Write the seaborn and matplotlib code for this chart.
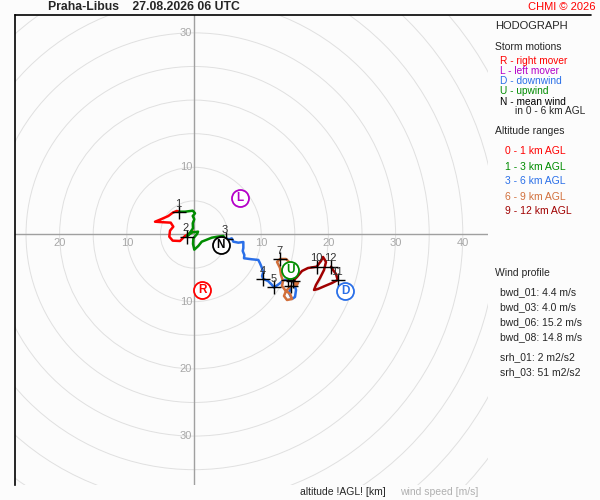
import numpy as np
import pandas as pd
import matplotlib
matplotlib.use("Agg")
import matplotlib.pyplot as plt
import seaborn as sns
from matplotlib.patches import Circle
from matplotlib.lines import Line2D

# hodograph trace, u / v components in m/s, split by altitude range
u_0_1 = [-0.10, -1.34, -2.08, -3.17, -3.68, -3.57, -3.08, -3.47, -4.57, -5.80, -4.81, -3.82, -3.17, -2.57, -2.19]
v_0_1 = [0.42, -0.22, -0.97, -0.92, -0.33, 0.57, 1.16, 1.76, 1.82, 1.90, 2.31, 2.75, 3.24, 3.50, 3.39]

u_1_3 = [-2.19, -1.34, -0.19, 0.15, -0.19, 0.04, -0.19, -0.15, -0.60, -1.04, -0.30, 0.60, 0.45,
         -0.10, -0.15, 0.04, 0.64, 1.15, 1.79, 2.63, 3.47, 4.36, 4.61]
v_1_3 = [3.39, 3.39, 3.54, 3.15, 2.75, 2.26, 1.67, 0.92, 0.27, -0.22, 0.30, 0.42, 0.07,
         -0.57, -1.41, -2.26, -1.71, -1.07, -0.82, -0.48, -0.33, -0.22, -0.57]

u_3_6 = [4.61, 5.25, 5.61, 5.85, 6.59, 7.34, 7.34, 7.25, 7.49, 7.44, 8.59, 9.57, 9.82, 10.07, 10.31,
         10.12, 10.31, 11.01, 11.61, 11.90, 12.65, 13.39, 14.29, 14.88, 15.18, 15.03, 14.58, 14.14, 14.43]
v_3_6 = [-0.57, -0.71, -0.57, -1.07, -1.22, -1.12, -2.01, -2.46, -3.05, -3.54, -3.69, -3.79, -4.29, -4.88, -5.58,
         -6.18, -6.62, -6.92, -7.51, -7.89, -7.37, -6.77, -6.77, -7.22, -8.26, -9.30, -9.60, -8.71, -7.66]

u_6_9 = [14.43, 13.69, 13.39, 13.84, 14.58, 14.29, 13.54, 13.10, 13.24, 12.95, 12.80, 12.35, 12.80,
         13.69, 14.14, 14.58, 15.03, 14.58, 13.99, 14.73, 15.48, 15.18, 14.73]
v_6_9 = [-7.66, -8.41, -9.15, -9.75, -9.60, -8.85, -8.26, -7.66, -6.92, -6.03, -4.99, -4.09, -3.65,
         -3.65, -4.09, -4.69, -5.58, -6.32, -6.77, -6.92, -7.22, -7.66, -6.92]

u_9_12 = [14.73, 15.33, 16.07, 16.96, 18.26, 18.90, 19.20, 19.64, 19.35, 18.75, 18.15, 17.86,
          18.45, 19.49, 20.54, 21.38, 21.13, 20.68, 20.39]
v_9_12 = [-6.92, -6.32, -5.43, -4.99, -4.79, -3.94, -3.35, -4.09, -5.28, -6.47, -7.51, -8.26,
          -8.11, -7.66, -7.22, -6.77, -5.88, -5.28, -4.79]

# wind at each whole km (labels 6, 8, 9 sit under the U marker in the original)
height_km = [1, 2, 3, 4, 5, 6, 7, 8, 9, 10, 11, 12]
height_u = [-2.19, -1.09, 4.70, 10.31, 11.90, 14.43, 12.80, 13.99, 14.73, 18.26, 21.38, 20.39]
height_v = [3.30, -0.33, -0.60, -6.62, -7.89, -7.66, -3.65, -6.77, -6.92, -4.79, -6.77, -4.79]
labelled_km = [1, 2, 3, 4, 5, 7, 10, 11, 12]

# storm motions
storm_labels = ["R", "L", "D", "U", "N"]
storm_u = [1.19, 6.85, 22.47, 14.29, 3.97]
storm_v = [-8.26, 5.43, -8.41, -5.28, -1.56]

layer_names = ["0 - 1 km AGL", "1 - 3 km AGL", "3 - 6 km AGL", "6 - 9 km AGL", "9 - 12 km AGL"]
layer_colors = ["#ff0000", "#008c00", "#2a6fe8", "#d2703c", "#a00000"]
storm_colors = ["#ff0000", "#b400c8", "#2a6fe8", "#008c00", "#000000"]

profile_lines = ["bwd_01: 4.4 m/s", "bwd_03: 4.0 m/s", "bwd_06: 15.2 m/s", "bwd_08: 14.8 m/s"]
srh_lines = ["srh_01: 2 m2/s2", "srh_03: 51 m2/s2"]

BG = "#fcfcfc"
sns.set_style("white")
plt.rcParams["font.family"] = ["Liberation Sans", "DejaVu Sans"]

frames = []
for name, uu, vv in zip(layer_names, [u_0_1, u_1_3, u_3_6, u_6_9, u_9_12],
                        [v_0_1, v_1_3, v_3_6, v_6_9, v_9_12]):
    frames.append(pd.DataFrame({"u": uu, "v": vv, "layer": name}))
trace = pd.concat(frames, ignore_index=True)


def px(x, y):
    return x / 600, 1 - y / 500


fig = plt.figure(figsize=(6, 5), dpi=100, facecolor=BG)
ax = fig.add_axes([15 / 600, 15 / 500, 473 / 600, 470 / 500])
ax.set_facecolor(BG)
ax.set_xlim(-26.64, 43.75)
ax.set_ylim(-37.28, 32.66)

for r in range(5, 70, 5):
    ax.add_patch(Circle((0, 0), r, fill=False, ec="#e0e0e0", lw=0.7, zorder=1))
ax.axhline(0, color="#a0a0a0", lw=1, zorder=2)
ax.axvline(0, color="#a0a0a0", lw=1, zorder=2)

for val in [-20, -10, 10, 20, 30, 40]:
    ax.text(val, -1.25, str(abs(val)), ha="center", va="center", fontsize=8, color="#a8a8a8", zorder=3)
for val in [30, 10, -10, -20, -30]:
    ax.text(-0.3, val, str(abs(val)), ha="right", va="center", fontsize=8, color="#a8a8a8", zorder=3)

sns.lineplot(data=trace, x="u", y="v", hue="layer", palette=dict(zip(layer_names, layer_colors)),
             sort=False, estimator=None, units="layer", lw=1.8, legend=False, ax=ax, zorder=4)

sns.scatterplot(x=height_u, y=height_v, marker="+", s=110, color="black", linewidth=1.0, ax=ax, zorder=5)
for h, uu, vv in zip(height_km, height_u, height_v):
    if h in labelled_km:
        ax.annotate(str(h), (uu, vv), xytext=(-0.5, 6), textcoords="offset points",
                    ha="center", va="center", fontsize=8, color="#303030", zorder=6)

for lab, uu, vv, col in zip(storm_labels, storm_u, storm_v, storm_colors):
    ax.scatter([uu], [vv], s=150, facecolor="white", edgecolor=col, linewidth=1.3, zorder=7)
    ax.text(uu, vv, lab, ha="center", va="center", fontsize=8.5, fontweight="bold", color=col, zorder=8)

for side in ["right", "bottom", "top"]:
    ax.spines[side].set_visible(False)
ax.spines["left"].set_color("black")
ax.spines["left"].set_linewidth(1.2)
ax.set_xticks([])
ax.set_yticks([])
ax.set_xlabel("")
ax.set_ylabel("")

fig.add_artist(Line2D([15 / 600, 591 / 600], [485 / 500, 485 / 500], color="black", lw=1.2,
                      transform=fig.transFigure))

fig.text(*px(143.5, 7), "Praha-Libus    27.08.2026 06 UTC", ha="center", va="center",
         fontsize=8.8, fontweight="bold")
fig.text(*px(596, 7), "CHMI \u00a9 2026", ha="right", va="center", fontsize=8, color="#ff0000")

fig.text(*px(495, 26), "HODOGRAPH", ha="left", va="center", fontsize=8)
fig.text(*px(495, 46.5), "Storm motions", ha="left", va="center", fontsize=7.5)
legend_rows = [("R - right mover", storm_colors[0]), ("L - left mover", storm_colors[1]),
               ("D - downwind", storm_colors[2]), ("U - upwind", storm_colors[3]),
               ("N - mean wind", storm_colors[4])]
for i, (txt, col) in enumerate(legend_rows):
    fig.text(*px(500.5, 61.5 + 10 * i), txt, ha="left", va="center", fontsize=7.3, color=col)
fig.text(*px(515, 111.5), "in 0 - 6 km AGL", ha="left", va="center", fontsize=7.3)

fig.text(*px(495, 131.5), "Altitude ranges", ha="left", va="center", fontsize=7.5)
for i, (txt, col) in enumerate(zip(layer_names, layer_colors)):
    fig.text(*px(505, 151.5 + 15 * i), txt, ha="left", va="center", fontsize=7.5, color=col)

fig.text(*px(495, 272.5), "Wind profile", ha="left", va="center", fontsize=7.5)
for i, txt in enumerate(profile_lines):
    fig.text(*px(500, 292.5 + 15 * i), txt, ha="left", va="center", fontsize=7.5)
for i, txt in enumerate(srh_lines):
    fig.text(*px(500, 357 + 15 * i), txt, ha="left", va="center", fontsize=7.5)

fig.text(*px(300, 492), "altitude !AGL! [km]", ha="left", va="center", fontsize=7.5)
fig.text(*px(400, 492), "wind speed [m/s]", ha="left", va="center", fontsize=7.5, color="#b0b0b0")

fig.savefig("out.png", dpi=100, facecolor=BG)
